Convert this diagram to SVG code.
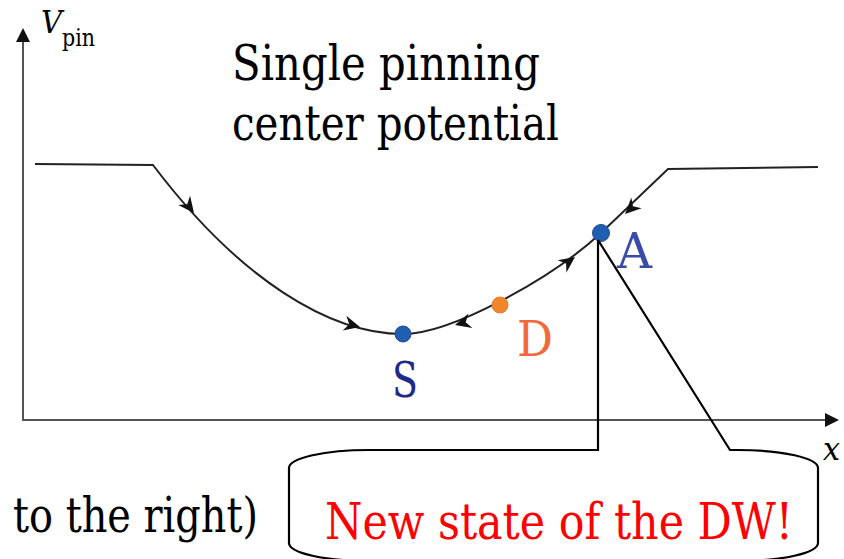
<svg xmlns="http://www.w3.org/2000/svg" width="844" height="559" viewBox="0 0 844 559">
  <defs>
    <style>
      text { font-family: "DejaVu Serif", serif; }
      .axis { stroke: #555; stroke-width: 2; fill: none; }
      .curve { stroke: #222; stroke-width: 2; fill: none; }
      .call { stroke: #000; stroke-width: 2.2; fill: none; }
      .blue { fill: #1f5fb0; stroke: #2a4a9a; stroke-width: 1; }
      .orange { fill: #f0862a; stroke: #e8772a; stroke-width: 1; }
    </style>
    <path id="head" d="M0,0 L-16,-7.5 L-11,0 L-16,7.5 Z" fill="#111"/>
    <path id="axhead" d="M0,0 L-14,-7 L-14,7 Z" fill="#111"/>
  </defs>
  <rect width="844" height="559" fill="#fff"/>

  <g id="axes">
    <line class="axis" x1="23" y1="421" x2="23" y2="38"/>
    <use href="#axhead" transform="translate(23,28) rotate(-90)"/>
    <line class="axis" x1="22" y1="420" x2="828" y2="420"/>
    <use href="#axhead" transform="translate(839,420)"/>
    <text x="41" y="33" font-size="31" font-style="italic" textLength="21" lengthAdjust="spacingAndGlyphs">V</text>
    <text x="62" y="46" font-size="25" textLength="33" lengthAdjust="spacingAndGlyphs">pin</text>
    <text x="823" y="460" font-size="32" font-style="italic" textLength="17" lengthAdjust="spacingAndGlyphs">x</text>
  </g>

  <g id="title">
    <text x="232" y="80" font-size="48" textLength="308" lengthAdjust="spacingAndGlyphs">Single pinning</text>
    <text x="232" y="140" font-size="48" textLength="327" lengthAdjust="spacingAndGlyphs">center potential</text>
  </g>

  <g id="connectors">
    <path class="curve" d="M35,164 L153,165 C240,280 330,334 403,334 C450,334 550,280 601,233 L668,169 L818,167"/>
    <use href="#head" transform="translate(194,213) rotate(52)"/>
    <use href="#head" transform="translate(360,327) rotate(14)"/>
    <use href="#head" transform="translate(455,325) rotate(165)"/>
    <use href="#head" transform="translate(575,257) rotate(-36)"/>
    <use href="#head" transform="translate(625,214) rotate(136)"/>
  </g>

  <g id="node-S">
    <circle class="blue" cx="403" cy="334" r="8"/>
    <text x="392" y="397" font-size="48" fill="#1e2a8a" textLength="26" lengthAdjust="spacingAndGlyphs">S</text>
  </g>
  <g id="node-D">
    <circle class="orange" cx="500" cy="305" r="8"/>
    <text x="517" y="356" font-size="49" fill="#f2693c" textLength="36" lengthAdjust="spacingAndGlyphs">D</text>
  </g>
  <g id="node-A">
    <circle class="blue" cx="601" cy="233" r="8.5"/>
    <text x="617" y="268" font-size="49" fill="#3a4aa8" textLength="35" lengthAdjust="spacingAndGlyphs">A</text>
  </g>

  <g id="callout">
    <path class="call" d="M598,240 V450 H369 A80 18 0 0 0 289 468 V543 A80 18 0 0 0 369 561 H738 A80 18 0 0 0 818 543 V468 A80 18 0 0 0 738 450 H730 L598,240"/>
    <text x="325" y="539" font-size="50" fill="#ff0000" textLength="468" lengthAdjust="spacingAndGlyphs">New state of the DW!</text>
  </g>

  <g id="caption">
    <text x="13" y="532" font-size="49" textLength="245" lengthAdjust="spacingAndGlyphs">to the right)</text>
  </g>
</svg>
